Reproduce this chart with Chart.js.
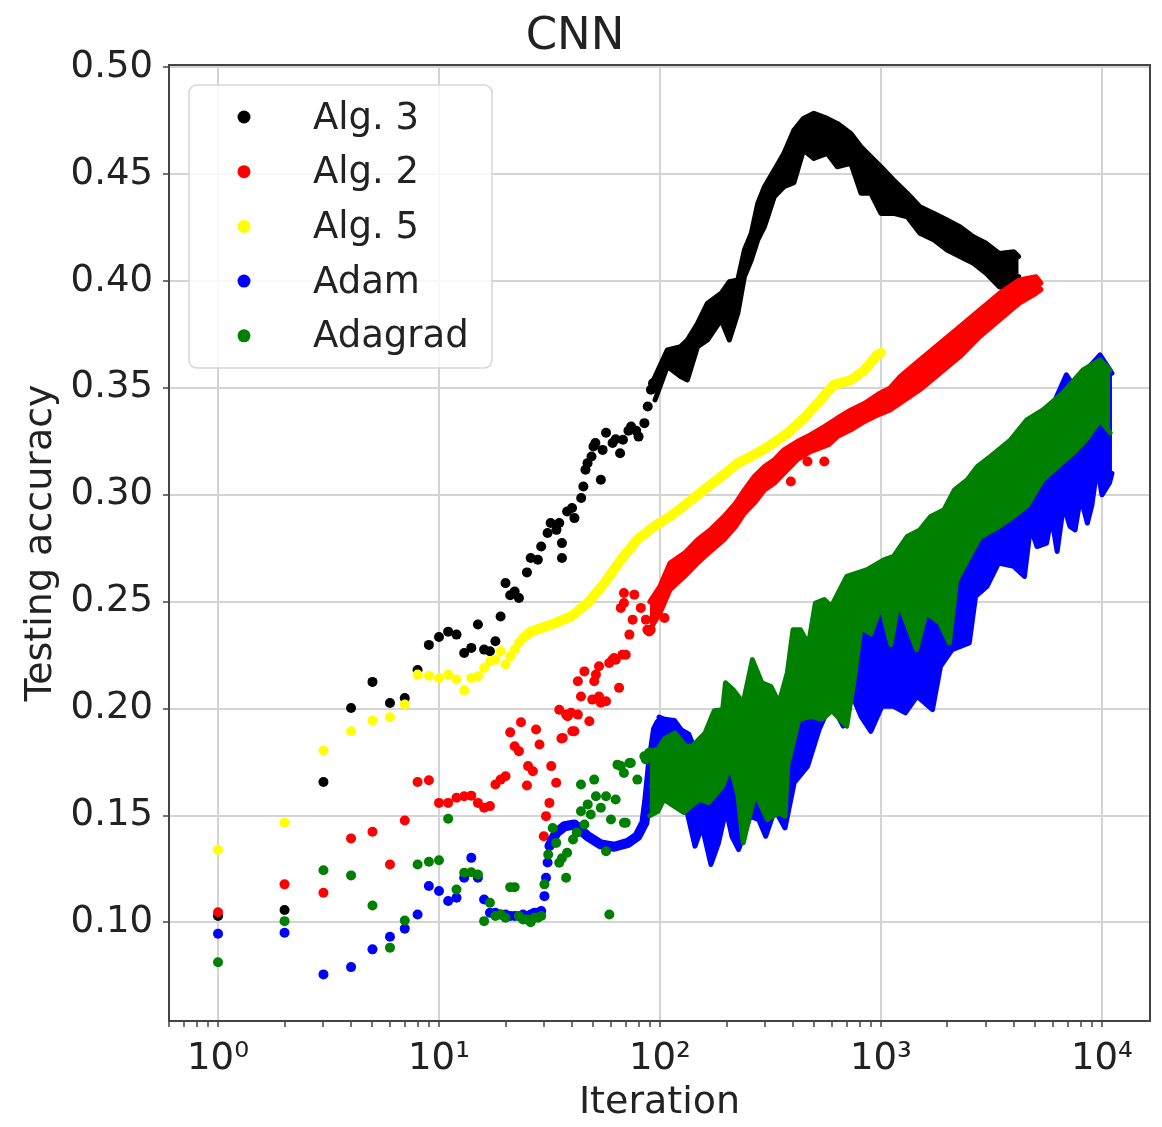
<!DOCTYPE html>
<html>
<head>
<meta charset="utf-8">
<title>CNN</title>
<script src="https://cdn.jsdelivr.net/npm/chart.js@4.4.1/dist/chart.umd.min.js"></script>
<style>
	body{margin:0;background:#fff;}
	#wrap{width:1162px;height:1127px;}
</style>
</head>
<body>
<div id="wrap"><canvas id="cnnChart" width="1162" height="1127"></canvas></div>
<script>
// values: [iteration, testing accuracy]
var seriesNames = ["Alg. 3","Alg. 2","Alg. 5","Adam","Adagrad"];
var xTickExps = [0,1,2,3,4];
var yTickValues = [0.10,0.15,0.20,0.25,0.30,0.35,0.40,0.45,0.50];

// Alg. 3 - single dots early on, then a thick band (upper / lower edge)
var alg3Points = [[1,0.1030],[2,0.1058],[3,0.1657],[4,0.2003],[5,0.2125],[6,0.2026],[7,0.2050],[8,0.2180],[9,0.2298],[10,0.2335],
	[11,0.2360],[12,0.2346],[13,0.2260],[14,0.2284],[15,0.2393],[16,0.2276],[17,0.2268],[18,0.2315],[19,0.2431],[20,0.2587],
	[21,0.2530],[22,0.2548],[23,0.2517],[25,0.2637],[26,0.2704],[28,0.2696],[29,0.2758],[31,0.2821],[32,0.2868],[34,0.2836],
	[35,0.2868],[36,0.2704],[36,0.2774],[38,0.2922],[40,0.2938],[41,0.2891],[44,0.2985],[45,0.3039],[46,0.3117],[47,0.3148],
	[49,0.3179],[50,0.3226],[51,0.3242],[54,0.3070],[55,0.3210],[57,0.3290],[61,0.3242],[63,0.3260],[66,0.3194],[68,0.3257],
	[72,0.3300],[74,0.3319],[78,0.3300],[80,0.3272],[85,0.3335],[88,0.3413],[91,0.3491],[93,0.3522],[96,0.3537]];
var alg3Upper = [[95,0.3553],[108,0.3678],[124,0.3693],[133,0.3724],[148,0.3802],[164,0.3896],[189,0.3942],[206,0.3997],[225,0.4005],
	[241,0.4145],[259,0.4223],[277,0.4363],[297,0.4441],[329,0.4519],[364,0.4597],[404,0.4706],[446,0.4760],[497,0.4784],[571,0.4760],
	[634,0.4737],[731,0.4690],[812,0.4628],[900,0.4581],[1000,0.4534],[1140,0.4472],[1315,0.4410],[1500,0.4347],[1740,0.4316],
	[1990,0.4285],[2275,0.4254],[2620,0.4207],[2990,0.4176],[3430,0.4129],[3990,0.4137],[4200,0.4114]];
var alg3Lower = [[95,0.3444],[108,0.3600],[124,0.3553],[133,0.3537],[148,0.3693],[164,0.3724],[189,0.3818],[206,0.3724],[225,0.3849],
	[241,0.4020],[259,0.4098],[277,0.4192],[297,0.4254],[329,0.4394],[364,0.4441],[404,0.4460],[446,0.4612],[497,0.4573],[571,0.4597],
	[634,0.4534],[731,0.4550],[812,0.4410],[900,0.4410],[1000,0.4316],[1140,0.4316],[1315,0.4300],[1500,0.4223],[1740,0.4192],
	[1990,0.4145],[2275,0.4114],[2620,0.4083],[2990,0.4036],[3430,0.3973],[3990,0.3958],[4200,0.4020]];

// Alg. 2
var alg2Points = [[1,0.1048],[2,0.1178],[3,0.1139],[4,0.1393],[5,0.1424],[6,0.1271],[7,0.1477],[8,0.1657],[9,0.1665],[10,0.1559],
	[11,0.1559],[12,0.1583],[13,0.1590],[14,0.1593],[15,0.1559],[16,0.1536],[17,0.1544],[18,0.1645],[19,0.1668],[20,0.1684],
	[21,0.1889],[22,0.1824],[23,0.1801],[23.5,0.1936],[25,0.1640],[25.3,0.1731],[26.6,0.1707],[27.5,0.1902],[28.5,0.1832],[29.8,0.1403],
	[30.5,0.1497],[31.6,0.1559],[32.2,0.1731],[33.9,0.1653],[35,0.1995],[35.8,0.1860],[36.3,0.1863],[37.6,0.1972],[38.2,0.1964],[39.6,0.1981],
	[40.1,0.1894],[41,0.1894],[42.5,0.2128],[42.5,0.1972],[43.9,0.2057],[45.5,0.2174],[47.9,0.1941],[49.4,0.2042],[50.4,0.2128],[51.3,0.2159],
	[53,0.2198],[53,0.2057],[54,0.2027],[57,0.2034],[58.9,0.2213],[61,0.2229],[62,0.2237],[63.1,0.2229],[65.3,0.2097],[66.5,0.2471],
	[67.6,0.2252],[68.7,0.2494],[68.7,0.2541],[70,0.2252],[72.7,0.2346],[75.2,0.2416],[76.5,0.2533],[81.9,0.2471],[86.3,0.2416],[87.7,0.2369],
	[89.3,0.2361],[90.8,0.2369],[104.8,0.2424],[391,0.3062],[465,0.3156],[554,0.3156]];
var alg2Upper = [[90,0.2500],[100,0.2572],[111,0.2681],[129,0.2727],[148,0.2790],[169,0.2836],[195,0.2899],[220,0.2961],[241,0.3023],
	[267,0.3085],[297,0.3132],[329,0.3164],[364,0.3210],[418,0.3249],[479,0.3280],[554,0.3319],[634,0.3358],[731,0.3397],[843,0.3428],
	[970,0.3470],[1100,0.3500],[1220,0.3553],[1500,0.3631],[1850,0.3709],[2275,0.3786],[2800,0.3864],[3440,0.3942],[4230,0.4005],
	[5030,0.4020],[5300,0.3990]];
var alg2Lower = [[90,0.2369],[100,0.2447],[111,0.2556],[129,0.2618],[148,0.2681],[169,0.2735],[195,0.2790],[220,0.2852],[241,0.2914],
	[267,0.2961],[297,0.3023],[329,0.3054],[418,0.3164],[479,0.3202],[580,0.3234],[634,0.3272],[731,0.3304],[843,0.3343],[970,0.3374],
	[1100,0.3397],[1220,0.3428],[1500,0.3491],[1850,0.3569],[2275,0.3646],[2800,0.3740],[3440,0.3818],[4230,0.3896],[5030,0.3942],
	[5300,0.3960]];

// Alg. 5
var alg5Points = [[1,0.1340],[2,0.1466],[3,0.1804],[4,0.1894],[5,0.1944],[6,0.1960],[7,0.2019],[8,0.2159],[9,0.2154],[10,0.2143],
	[11,0.2159],[12,0.2136],[13,0.2086],[14,0.2143],[15,0.2151],[16,0.2190],[17,0.2221],[18,0.2229],[19,0.2268],[20,0.2206],
	[21,0.2245],[22,0.2276],[23,0.2307]];
var alg5Line = [[24,0.2330],[26.1,0.2361],[32.2,0.2393],[39.6,0.2431],[47.1,0.2494],[56,0.2587],[66.5,0.2696],[79,0.2790],[94,0.2852],
	[111,0.2899],[133,0.2961],[158,0.3023],[189,0.3085],[225,0.3148],[267,0.3187],[318,0.3234],[377,0.3288],[448,0.3358],[533,0.3444],
	[609,0.3514],[731,0.3537],[843,0.3584],[960,0.3654],[1000,0.3664]];

// Adam
var adamPoints = [[1,0.0947],[2,0.0952],[3,0.0757],[4,0.0791],[5,0.0874],[6,0.0933],[7,0.0971],[8,0.1037],[9,0.1170],[10,0.1147],
	[11,0.1100],[12,0.1115],[13,0.1209],[14,0.1302],[15,0.1209],[16,0.1107],[17,0.1045],[18,0.1045],[19,0.1037],[20,0.1037],
	[21,0.1030],[22,0.1030],[23,0.1030],[24,0.1037],[25,0.1030],[26,0.1037],[27,0.1045],[28,0.1045],[29,0.1053],[30,0.1123],
	[30.5,0.1209],[31,0.1280]];
var adamCurve = [[31.6,0.1357],[34,0.1420],[37,0.1450],[41,0.1458],[47.1,0.1403],[54,0.1365],[62,0.1354],[71.6,0.1372],[79,0.1403],
	[85,0.1466],[87.7,0.1575],[90.8,0.1731],[95.9,0.1902],[99.3,0.1933]];
var adamUpper = [[99,0.1960],[105,0.1950],[116,0.1945],[125,0.1900],[135,0.1880],[145,0.1800],[160,0.1740],[180,0.1740],[210,0.1760],
	[250,0.1720],[297,0.1700],[330,0.1800],[352,0.1880],[400,0.2050],[420,0.2130],[498,0.2150],[592,0.2200],[700,0.2450],[866,0.2550],
	[1030,0.2600],[1315,0.2700],[1680,0.2800],[2150,0.2900],[2730,0.3000],[3130,0.3100],[3860,0.3200],[4570,0.3300],[5410,0.3340],
	[5620,0.3390],[6000,0.3420],[6900,0.3561],[7560,0.3500],[8590,0.3590],[9530,0.3640],[9800,0.3654],[10300,0.3620],[11100,0.3569]];
var adamLower = [[99,0.1640],[105,0.1600],[118,0.1560],[131,0.1540],[144,0.1357],[155,0.1450],[170,0.1271],[184,0.1372],[199,0.1528],
	[212,0.1400],[227,0.1341],[256,0.1497],[280,0.1480],[301,0.1403],[331,0.1528],[368,0.1442],[405,0.1653],[466,0.1731],[525,0.1902],
	[594,0.2027],[675,0.1918],[734,0.2073],[812,0.1964],[900,0.1894],[1010,0.2011],[1140,0.2011],[1290,0.1980],[1455,0.2058],[1710,0.1995],
	[1860,0.2198],[2100,0.2276],[2510,0.2307],[2680,0.2525],[3020,0.2572],[3410,0.2681],[3990,0.2665],[4460,0.2618],[4750,0.2850],
	[5080,0.2758],[5620,0.2774],[5900,0.2900],[6270,0.2735],[6700,0.2950],[7170,0.2852],[7560,0.2836],[8000,0.2990],[8590,0.2868],
	[9000,0.2950],[9530,0.3132],[10000,0.3000],[10800,0.3054],[11100,0.3100]];

// Adagrad
var adagradPoints = [[1,0.0814],[2,0.1006],[3,0.1244],[4,0.1220],[5,0.1079],[6,0.0882],[7,0.1009],[8,0.1271],[9,0.1284],[10,0.1291],
	[11,0.1485],[12,0.1154],[13,0.1232],[14,0.1235],[15,0.1224],[16,0.1006],[17,0.1092],[18,0.1030],[19,0.1037],[20,0.1022],
	[21,0.1165],[22,0.1165],[23,0.1030],[24,0.1014],[25,0.1014],[26,0.1001],[27,0.1022],[28,0.1022],[29,0.1030],[30,0.1178],
	[31.2,0.1318],[32.7,0.1442],[33.9,0.1372],[35,0.1279],[36,0.1300],[37.6,0.1209],[38,0.1326],[40.4,0.1388],[42,0.1420],[43.9,0.1520],
	[43.9,0.1645],[45.5,0.1458],[47.1,0.1552],[48.6,0.1505],[50.4,0.1668],[51.3,0.1590],[54,0.1536],[57,0.1590],[57,0.1333],[59,0.1037],
	[60,0.1481],[63,0.1575],[64.2,0.1738],[66.5,0.1731],[68.7,0.1466],[68.7,0.1699],[70,0.1466],[72.7,0.1746],[73.8,0.1746],[79,0.1668],
	[85,0.1777],[86.3,0.1762],[89.3,0.1793],[94.2,0.1637],[94.2,0.1544]];
var adagradUpper = [[90,0.1800],[98,0.1810],[105,0.1860],[117,0.1886],[131,0.1824],[140,0.1824],[160,0.1886],[176,0.1990],[192,0.1995],
	[198,0.2121],[214,0.2089],[238,0.2027],[262,0.2229],[289,0.2121],[318,0.2103],[346,0.2027],[377,0.2168],[400,0.2369],[432,0.2369],
	[470,0.2300],[505,0.2494],[554,0.2510],[596,0.2478],[700,0.2618],[866,0.2650],[1030,0.2696],[1140,0.2712],[1315,0.2805],[1500,0.2836],
	[1680,0.2899],[1930,0.2930],[2150,0.3023],[2460,0.3070],[2730,0.3132],[3130,0.3179],[3860,0.3257],[4570,0.3350],[5410,0.3397],
	[6640,0.3475],[8210,0.3584],[9800,0.3631],[10900,0.3584]];
var adagradLower = [[90,0.1500],[98,0.1520],[104,0.1575],[128,0.1514],[150,0.1575],[166,0.1560],[192,0.1636],[208,0.1731],[225,0.1600],
	[238,0.1372],[255,0.1500],[270,0.1607],[306,0.1481],[346,0.1514],[368,0.1497],[378,0.1731],[425,0.1949],[483,0.1964],[540,0.1950],
	[600,0.1990],[700,0.1918],[760,0.2150],[812,0.2380],[900,0.2350],[1000,0.2480],[1109,0.2300],[1200,0.2500],[1450,0.2276],[1600,0.2450],
	[1850,0.2400],[2040,0.2307],[2200,0.2600],[2480,0.2700],[2800,0.2800],[3400,0.2850],[4000,0.2900],[4600,0.2950],[5400,0.3070],
	[6600,0.3150],[7500,0.3200],[8500,0.3260],[9800,0.3350],[10900,0.3290]];

var seriesColors = ["#000000","#ff0000","#ffff00","#0000ff","#008000"];
var supDigits = ["\u2070","\u00b9","\u00b2","\u00b3","\u2074"];
var FONT = "DejaVu Sans";
var TEXT = "#222222";

Chart.defaults.font.family = FONT;
Chart.defaults.color = TEXT;

function dots(pts, color, order){
	return {type:'scatter', data:pts, backgroundColor:color, borderWidth:0, pointRadius:5, pointHoverRadius:5, order:order};
}
function strip(pts, color, width, order, fill){
	return {type:'line', data:pts, borderColor:color, backgroundColor:color, borderWidth:width, pointRadius:0, pointHoverRadius:0,
		tension:0, fill:fill || false, borderJoinStyle:'round', borderCapStyle:'round', order:order};
}

// legend inside the axes + the box frame, drawn on top like matplotlib does
var insideLegend = {
	id:'insideLegend',
	afterDraw:function(chart){
		var ctx = chart.ctx, a = chart.chartArea;
		ctx.save();
		ctx.strokeStyle = '#444'; ctx.lineWidth = 2;
		ctx.strokeRect(a.left, a.top, a.right - a.left, a.bottom - a.top);

		var x0 = a.left + 20, y0 = a.top + 20, w = 303, h = 283;
		ctx.beginPath();
		if (ctx.roundRect) ctx.roundRect(x0, y0, w, h, 8); else ctx.rect(x0, y0, w, h);
		ctx.fillStyle = 'rgba(255,255,255,0.8)'; ctx.fill();
		ctx.strokeStyle = '#d6d6d6'; ctx.lineWidth = 1.5; ctx.stroke();

		ctx.font = '37px "' + FONT + '"';
		ctx.textBaseline = 'middle'; ctx.textAlign = 'left';
		for (var i = 0; i < seriesNames.length; i++){
			var cy = y0 + 32 + i*54.7;
			ctx.beginPath(); ctx.arc(x0 + 55, cy, 6.5, 0, Math.PI*2);
			ctx.fillStyle = seriesColors[i]; ctx.fill();
			ctx.fillStyle = TEXT; ctx.fillText(seriesNames[i], x0 + 124, cy + 2);
		}
		ctx.restore();
	}
};

var datasets = [
	dots(alg3Points, seriesColors[0], 5), strip(alg3Upper, seriesColors[0], 5, 5), strip(alg3Lower, seriesColors[0], 5, 5, '-1'),
	dots(alg2Points, seriesColors[1], 4), strip(alg2Upper, seriesColors[1], 5, 4), strip(alg2Lower, seriesColors[1], 5, 4, '-1'),
	dots(alg5Points, seriesColors[2], 3), strip(alg5Line, seriesColors[2], 10, 3),
	dots(adamPoints, seriesColors[3], 2), strip(adamCurve, seriesColors[3], 10, 2),
	strip(adamUpper, seriesColors[3], 5, 2), strip(adamLower, seriesColors[3], 5, 2, '-1'),
	dots(adagradPoints, seriesColors[4], 1), strip(adagradUpper, seriesColors[4], 5, 1), strip(adagradLower, seriesColors[4], 5, 1, '-1')
];

var ctx = document.getElementById("cnnChart");
var cnnChart = new Chart(ctx, {
	type:'scatter',
	data:{datasets:datasets},
	plugins:[insideLegend],
	options:{
		responsive:false,
		animation:false,
		devicePixelRatio:1,
		events:[],
		layout:{padding:{left:0, right:12, top:0, bottom:0}},
		plugins:{
			legend:{display:false},
			tooltip:{enabled:false},
			title:{display:true, text:'CNN', color:TEXT, font:{size:45, weight:'normal'}, padding:{top:10, bottom:1}}
		},
		scales:{
			x:{
				type:'logarithmic', min:0.616, max:16500, z:1,
				afterBuildTicks:function(scale){
					var t = [];
					for (var e = xTickExps[0]-1; e <= xTickExps[xTickExps.length-1]; e++){
						for (var m = 1; m < 10; m++){
							var v = m*Math.pow(10, e);
							if (v > scale.min && v < scale.max) t.push({value:v, major:m === 1});
						}
					}
					scale.ticks = t;
				},
				afterFit:function(scale){ scale.height = 106; },
				ticks:{
					autoSkip:false, maxRotation:0, minRotation:0, padding:10,
					font:{size:37}, color:TEXT,
					callback:function(value){
						var e = Math.round(Math.log10(value));
						if (Math.abs(Math.log10(value) - e) < 1e-9 && xTickExps.indexOf(e) >= 0) return '10' + supDigits[e];
						return '';
					}
				},
				grid:{
					color:function(c){ return c.tick && c.tick.major ? '#d4d4d4' : 'rgba(0,0,0,0)'; },
					lineWidth:2, tickColor:'#444', tickWidth:1.5, tickLength:6
				},
				border:{display:false},
				title:{display:true, text:'Iteration', color:TEXT, font:{size:38}, padding:{top:0, bottom:1}}
			},
			y:{
				type:'linear', min:0.0539, max:0.501, z:1,
				afterBuildTicks:function(scale){
					scale.ticks = yTickValues.map(function(v){ return {value:v}; });
				},
				afterFit:function(scale){ scale.width = 169; },
				ticks:{
					autoSkip:false, padding:10, font:{size:37}, color:TEXT,
					callback:function(value){ return value.toFixed(2); }
				},
				grid:{color:'#d4d4d4', lineWidth:2, tickColor:'#444', tickWidth:1.5, tickLength:6},
				border:{display:false},
				title:{display:true, text:'Testing accuracy', color:TEXT, font:{size:38}, padding:{top:18, bottom:0}}
			}
		}
	}
});
</script>
</body>
</html>
